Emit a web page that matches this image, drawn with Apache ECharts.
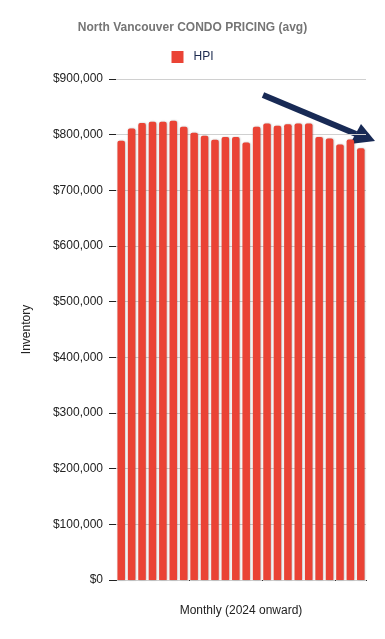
<!DOCTYPE html>
<html>
<head>
<meta charset="utf-8">
<script src="https://cdn.jsdelivr.net/npm/echarts@6/dist/echarts.min.js"></script>
<style>
html,body{margin:0;padding:0;background:#fff;}
#chart{width:385px;height:639px;}
</style>
</head>
<body>
<div id="chart"></div>
<script>
var months = ['Jan 2024','Feb 2024','Mar 2024','Apr 2024','May 2024','Jun 2024','Jul 2024','Aug 2024','Sep 2024','Oct 2024','Nov 2024','Dec 2024',
              'Jan 2025','Feb 2025','Mar 2025','Apr 2025','May 2025','Jun 2025','Jul 2025','Aug 2025','Sep 2025','Oct 2025','Nov 2025','Dec 2025'];
var hpi = [789000, 811000, 821000, 823000, 823000, 825000, 814000, 803500, 798000, 791000, 796000, 796000,
           786000, 814000, 820000, 816000, 818500, 820000, 820000, 796000, 793000, 782500, 791500, 775500];
var yTicks = [0, 100000, 200000, 300000, 400000, 500000, 600000, 700000, 800000, 900000];

var font = '"Liberation Sans", Arial, sans-serif';
var chart = echarts.init(document.getElementById('chart'), null, {renderer: 'canvas'});
chart.setOption({
  animation: false,
  backgroundColor: '#ffffff',
  title: {
    text: 'North Vancouver CONDO PRICING (avg)',
    left: 'center',
    top: 17,
    textStyle: {fontFamily: font, fontSize: 12, fontWeight: 'bold', color: '#757575'}
  },
  legend: {
    top: 46,
    left: 'center',
    itemWidth: 12,
    itemHeight: 12,
    itemGap: 10,
    icon: 'rect',
    textStyle: {fontFamily: font, fontSize: 12, color: '#1c2a4f', padding: [0, 0, 0, 5]},
    data: ['HPI']
  },
  grid: {left: 116, right: 19, top: 79, bottom: 59, containLabel: false},
  xAxis: {
    type: 'category',
    data: months,
    name: 'Monthly (2024 onward)',
    nameLocation: 'middle',
    nameGap: 25,
    nameTextStyle: {fontFamily: font, fontSize: 12, color: '#222'},
    axisLine: {show: false},
    axisTick: {show: true, length: 1, lineStyle: {color: '#333'}},
    axisLabel: {show: false}
  },
  yAxis: {
    type: 'value',
    min: yTicks[0],
    max: yTicks[yTicks.length - 1],
    interval: 100000,
    name: 'Inventory',
    nameLocation: 'middle',
    nameGap: 83,
    nameTextStyle: {fontFamily: font, fontSize: 12, color: '#222'},
    axisLine: {show: false},
    axisTick: {show: true, length: 7, inside: false, lineStyle: {color: '#222', width: 1}},
    splitLine: {show: true, lineStyle: {color: '#d0d0d0'}},
    axisLabel: {
      fontFamily: font, fontSize: 12, color: '#222', margin: 13,
      formatter: function (v) { return '$' + v.toLocaleString('en-US'); }
    }
  },
  series: [{
    name: 'HPI',
    type: 'bar',
    data: hpi,
    barWidth: '72%',
    z: 5,
    itemStyle: {
      color: '#ea4335',
      borderRadius: [2, 2, 0, 0],
      shadowColor: 'rgba(0,0,0,0.3)',
      shadowBlur: 2,
      shadowOffsetX: 0.5,
      shadowOffsetY: 0
    }
  }],
  graphic: [
    {
      type: 'line',
      shape: {x1: 263, y1: 95, x2: 356, y2: 134},
      style: {stroke: '#182a55', lineWidth: 6}
    },
    {
      type: 'polygon',
      shape: {points: [[361, 124], [375, 141], [350, 144]]},
      style: {fill: '#182a55'}
    }
  ]
});
</script>
</body>
</html>
